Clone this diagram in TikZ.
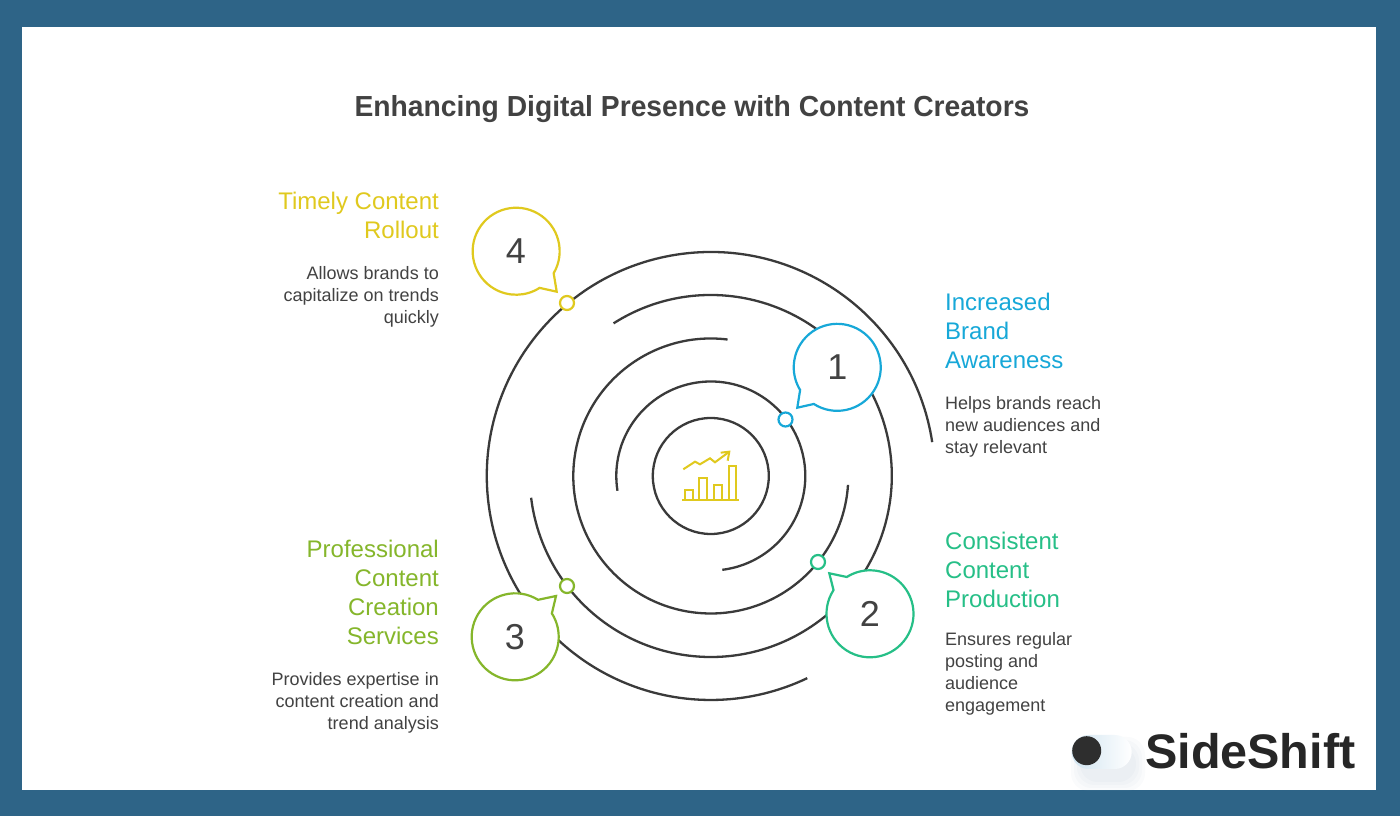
\documentclass[tikz,border=0pt]{standalone}
\usepackage{fontspec}
\setmainfont{Liberation Sans}
\usepackage{tikz}
\definecolor{frameblue}{HTML}{2E6487}
\definecolor{ringgray}{HTML}{3A3A3A}
\definecolor{textgray}{HTML}{424242}
\definecolor{cone}{HTML}{17A8D8}
\definecolor{ctwo}{HTML}{26BF87}
\definecolor{cthree}{HTML}{85B62B}
\definecolor{cfour}{HTML}{E0C91E}
\definecolor{pillblue}{HTML}{D0E4F0}
\definecolor{shadeblue}{HTML}{9DB8CC}
\pgfdeclarelayer{framelayer}
\pgfdeclarelayer{edgelayer}
\pgfdeclarelayer{bubblelayer}
\pgfdeclarelayer{nodelayer}
\pgfsetlayers{framelayer,edgelayer,bubblelayer,nodelayer,main}
\tikzstyle{ring}=[-,draw=ringgray,line width=2.300]
\tikzstyle{number}=[circle,inner sep=0pt,outer sep=0pt,minimum size=87pt,text=textgray,font=\fontsize{36}{36}\selectfont]
\tikzstyle{bubble}=[fill=white,line width=2.200,line join=miter]
\tikzstyle{dot}=[circle,fill=white,inner sep=0pt,minimum size=14pt,line width=2.200]
\tikzstyle{headright}=[anchor=north east,align=right,inner sep=0pt,font=\fontsize{24}{29}\selectfont]
\tikzstyle{headleft}=[anchor=north west,align=left,inner sep=0pt,font=\fontsize{24}{29}\selectfont]
\tikzstyle{bodyright}=[anchor=north east,align=right,inner sep=0pt,text=textgray,font=\fontsize{18}{22}\selectfont]
\tikzstyle{bodyleft}=[anchor=north west,align=left,inner sep=0pt,text=textgray,font=\fontsize{18}{22}\selectfont]
\tikzstyle{icon}=[draw=cfour,line width=2.000]
\tikzstyle{pillshade}=[fill=shadeblue,opacity=.05,rounded corners=18pt]
\begin{document}
\begin{tikzpicture}[x=1pt,y=1pt]
	\useasboundingbox (0,0) rectangle (1400,816);
	\begin{pgfonlayer}{framelayer}
		\fill [frameblue] (0,0) rectangle (1400,816);
		\fill [white] (22,26) rectangle (1376,789);
	\end{pgfonlayer}
	\begin{pgfonlayer}{nodelayer}
		\coordinate (c) at (710.8,340);
		\node [style=number] (n1) at (837.5,448.5) {1};
		\node [style=number] (n2) at (870,202.2) {2};
		\node [style=number] (n3) at (515,179.3) {3};
		\node [style=number] (n4) at (516,564.5) {4};
		\coordinate (t1) at (797.3,408.3);
		\coordinate (t2) at (829.3,242.7);
		\coordinate (t3) at (556,220);
		\coordinate (t4) at (556.7,524.3);
		\node [style=dot,draw=cone] (d1) at (785.5,396.5) {};
		\node [style=dot,draw=ctwo] (d2) at (818,254) {};
		\node [style=dot,draw=cthree] (d3) at (567,230) {};
		\node [style=dot,draw=cfour] (d4) at (567,513) {};
		\node [text=textgray,font=\fontsize{29}{36}\selectfont\bfseries\addfontfeature{FakeStretch=0.974}] (title) at (692,707) {Enhancing Digital Presence with Content Creators};
		\node [style=headleft,text=cone] (h1) at (945,523) {Increased\\Brand\\Awareness};
		\node [style=bodyleft] (b1) at (945,419.4) {Helps brands reach\\new audiences and\\stay relevant};
		\node [style=headleft,text=ctwo] (h2) at (945,284) {Consistent\\Content\\Production};
		\node [style=bodyleft] (b2) at (945,183.4) {Ensures regular\\posting and\\audience\\engagement};
		\node [style=headright,text=cthree] (h3) at (439,276) {Professional\\Content\\Creation\\Services};
		\node [style=bodyright] (b3) at (439,143.4) {Provides expertise in\\content creation and\\trend analysis};
		\node [style=headright,text=cfour] (h4) at (439,624) {Timely Content\\Rollout};
		\node [style=bodyright] (b4) at (439,549.4) {Allows brands to\\capitalize on trends\\quickly};
	\end{pgfonlayer}
	\begin{pgfonlayer}{edgelayer}
		\draw [style=ring] (c) circle (58pt);
		\draw [style=ring] (c) ++(189:94.5pt) arc[start angle=189,end angle=-83,radius=94.5pt];
		\draw [style=ring] (c) ++(83:137.5pt) arc[start angle=83,end angle=356.3,radius=137.5pt];
		\draw [style=ring] (c) ++(122.5:181pt) arc[start angle=122.5,end angle=-173.1,radius=181pt];
		\draw [style=ring] (c) ++(8.7:224pt) arc[start angle=8.7,end angle=295.5,radius=224pt];
	\end{pgfonlayer}
	\begin{pgfonlayer}{bubblelayer}
		\draw [style=bubble,draw=cone] (n1.237.4) arc[start angle=237.4,end angle=571.4,radius=43.5pt] -- (t1) -- cycle;
		\draw [style=bubble,draw=ctwo] (n2.147) arc[start angle=147,end angle=482.2,radius=43.5pt] -- (t2) -- cycle;
		\draw [style=bubble,draw=cthree] (n3.58.3) arc[start angle=58.3,end angle=392.5,radius=43.5pt] -- (t3) -- cycle;
		\draw [style=bubble,draw=cfour] (n4.-30.4) arc[start angle=-30.4,end angle=302.6,radius=43.5pt] -- (t4) -- cycle;
	\end{pgfonlayer}
	% chart icon
	\draw [style=icon] (682,315.7) -- (739.3,315.7);
	\draw [style=icon] (685,315.7) -- (685,325.7) -- (692.7,325.7) -- (692.7,315.7);
	\draw [style=icon] (699.3,315.7) -- (699.3,337.7) -- (706.7,337.7) -- (706.7,315.7);
	\draw [style=icon] (714.3,315.7) -- (714.3,330.7) -- (722,330.7) -- (722,315.7);
	\draw [style=icon] (729,315.7) -- (729,350) -- (736.3,350) -- (736.3,315.7);
	\draw [style=icon] (683.3,346.7) -- (695,354.3) -- (700,351.7) -- (710,357.7) -- (715,353.7) -- (729.3,364.3);
	\draw [style=icon] (720.7,363.3) -- (729.3,364.3) -- (727.7,355.3);
	% logo
	\foreach \grow in {0,3,6,9}
		\fill [style=pillshade] (1080-\grow,34-\grow) rectangle (1136+\grow,70+\grow);
	\node [rounded corners=17pt,minimum width=60pt,minimum height=34pt,inner sep=0pt,left color=pillblue,right color=white] (pill) at (1101.7,64) {};
	\node [circle,fill=black!82,inner sep=0pt,minimum size=29pt] (knob) at (1086.7,65.3) {};
	\node [anchor=base west,inner sep=0pt,text=black!85,font=\fontsize{48.5}{48.5}\selectfont\bfseries] (brand) at (1145,47.5) {SideShift};
\end{tikzpicture}
\end{document}
